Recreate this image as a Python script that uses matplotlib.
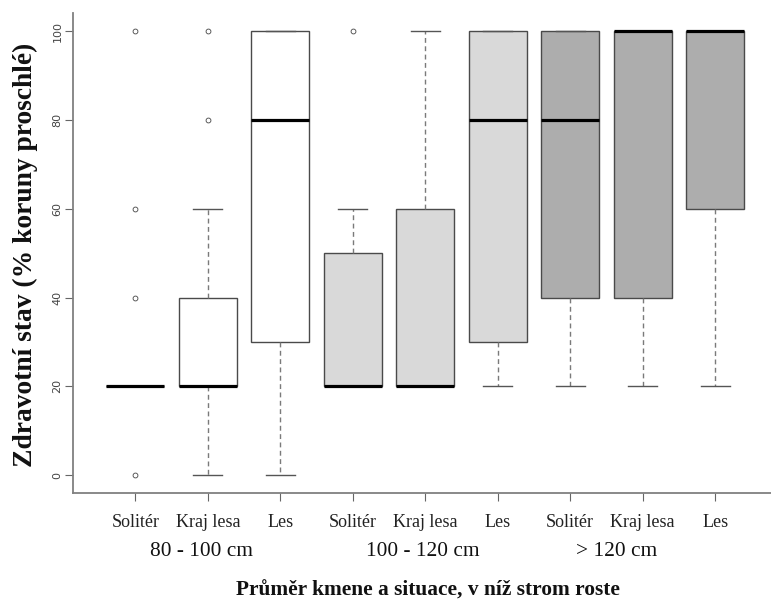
import matplotlib

matplotlib.use("Agg")
import matplotlib.pyplot as plt
from matplotlib.transforms import blended_transform_factory

# box statistics (percent of crown dried out)
categories = ["Solitér", "Kraj lesa", "Les"] * 3
groups = ["80 - 100 cm", "100 - 120 cm", "> 120 cm"]
q1 = [20, 20, 30, 20, 20, 30, 40, 40, 60]
medians = [20, 20, 80, 20, 20, 80, 80, 100, 100]
q3 = [20, 40, 100, 50, 60, 100, 100, 100, 100]
whisker_low = [20, 0, 0, 20, 20, 20, 20, 20, 20]
whisker_high = [20, 60, 100, 60, 100, 100, 100, 100, 100]
outliers = [[0, 40, 60, 100], [80, 100], [], [100], [], [], [], [], []]
fill_colors = ["white"] * 3 + ["#d9d9d9"] * 3 + ["#adadad"] * 3
group_x = [1.91, 4.96, 7.64]

serif = ["Liberation Serif", "DejaVu Serif"]

fig = plt.figure(figsize=(7.71, 6.02), dpi=100)
ax = fig.add_axes([0.0947, 0.181, 0.9053, 0.797])

stats = []
for i in range(len(categories)):
    stats.append(
        dict(
            med=medians[i],
            q1=q1[i],
            q3=q3[i],
            whislo=whisker_low[i],
            whishi=whisker_high[i],
            fliers=outliers[i],
        )
    )

positions = list(range(1, len(categories) + 1))
parts = ax.bxp(
    stats,
    positions=positions,
    widths=0.8,
    capwidths=0.4,
    patch_artist=True,
    boxprops=dict(edgecolor="#4a4a4a", linewidth=1.0),
    medianprops=dict(color="black", linewidth=2.3, solid_capstyle="butt"),
    whiskerprops=dict(color="#7a7a7a", linewidth=1.0, linestyle=(0, (3.5, 2.5))),
    capprops=dict(color="#555555", linewidth=1.0),
    flierprops=dict(marker="o", markersize=3.5, markerfacecolor="none",
                    markeredgecolor="#444444", markeredgewidth=0.6),
)
for box, color in zip(parts["boxes"], fill_colors):
    box.set_facecolor(color)

ax.set_xlim(0.14, 9.77)
ax.set_ylim(-4, 104)

for side in ("top", "right"):
    ax.spines[side].set_visible(False)
for side in ("left", "bottom"):
    ax.spines[side].set_color("#808080")
    ax.spines[side].set_linewidth(1.3)

ax.set_yticks([0, 20, 40, 60, 80, 100])
ax.tick_params(axis="y", length=6, width=0.8, color="#666666",
               labelsize=8, labelcolor="#444444", pad=1.5)
for label in ax.get_yticklabels():
    label.set_rotation(90)
    label.set_va("center")

ax.set_xticks(positions)
ax.set_xticklabels(categories, family=serif, fontsize=13, color="#222222")
ax.tick_params(axis="x", length=6, width=0.8, color="#666666", pad=9)

trans = blended_transform_factory(ax.transData, fig.transFigure)
for x, name in zip(group_x, groups):
    ax.text(x, 1 - 551 / 602, name, transform=trans, ha="center", va="center",
            family=serif, fontsize=15.4, color="#111111")

fig.text(428 / 771, 1 - 591 / 602, "Průměr kmene a situace, v níž strom roste",
         ha="center", va="center", family=serif, fontsize=15.4,
         fontweight="bold", color="#111111")
fig.text(25 / 771, 1 - 255 / 602, "Zdravotní stav (% koruny proschlé)",
         ha="center", va="center", rotation=90, family=serif, fontsize=19.8,
         fontweight="bold", color="#111111")

fig.savefig("out.png", dpi=100)
plt.close(fig)
